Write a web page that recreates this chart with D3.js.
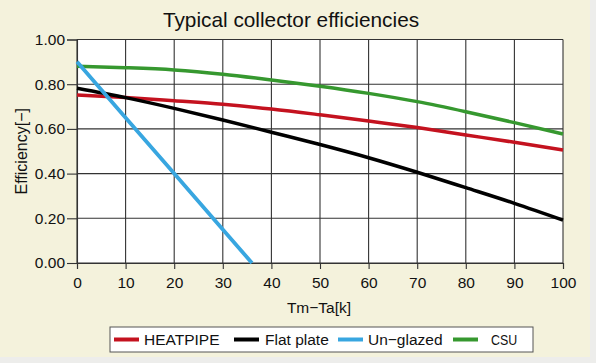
<!DOCTYPE html>
<html><head><meta charset="utf-8">
<script src="https://cdn.jsdelivr.net/npm/d3@7"></script>
<style>body{margin:0;background:#ededeb;}svg{display:block;}</style>
</head><body>
<svg id="c" width="596" height="363"></svg>
<script>
const title = "Typical collector efficiencies";
const xTicks = [0,10,20,30,40,50,60,70,80,90,100];
const yTicks = [0,0.2,0.4,0.6,0.8,1.0];
const xs = [0,10,20,30,40,50,60,70,80,90,100];
const heatpipe = [0.752,0.741,0.726,0.710,0.689,0.663,0.635,0.606,0.573,0.540,0.506];
const flatplate = [0.782,0.740,0.692,0.640,0.585,0.530,0.471,0.406,0.337,0.267,0.192];
const unglazedX = [0,10,20,30,36];
const unglazed = [0.90,0.65,0.40,0.15,0.0];
const csu = [0.880,0.874,0.864,0.845,0.819,0.791,0.759,0.722,0.677,0.628,0.577];
const seriesNames = ["HEATPIPE","Flat plate","Un\u2212glazed","CSU"];
const colors = ["#c4121f","#000000","#38a6e0","#36982f"];

const svg = d3.select("#c");
svg.append("rect").attr("x",0).attr("y",0).attr("width",590).attr("height",357).attr("fill","#f4f2dc");

const x = d3.scaleLinear().domain([0,100]).range([77,563]);
const y = d3.scaleLinear().domain([0,1]).range([263,39.5]);

svg.append("rect").attr("x",x(0)).attr("y",y(1)).attr("width",x(100)-x(0)).attr("height",y(0)-y(1)).attr("fill","#fff");

// grid
const g = svg.append("g");
g.selectAll(".vg").data(xTicks).join("line")
  .attr("x1",d=>x(d)).attr("x2",d=>x(d)).attr("y1",y(1)).attr("y2",y(0))
  .attr("stroke","#333").attr("stroke-width",1.1);
g.selectAll(".hg").data(yTicks).join("line")
  .attr("x1",x(0)).attr("x2",x(100)).attr("y1",d=>y(d)).attr("y2",d=>y(d))
  .attr("stroke","#333").attr("stroke-width",1.1);

// axes
const xa = svg.append("g").attr("transform",`translate(0,${y(0)})`)
  .call(d3.axisBottom(x).tickValues(xTicks).tickFormat(d3.format("d")).tickSize(6).tickPadding(8));
const ya = svg.append("g").attr("transform",`translate(${x(0)},0)`)
  .call(d3.axisLeft(y).tickValues(yTicks).tickFormat(d3.format(".2f")).tickSize(10).tickPadding(2));
[xa,ya].forEach(a=>{
  a.select(".domain").attr("stroke","#333").attr("stroke-width",1.1);
  a.selectAll(".tick line").attr("stroke","#333").attr("stroke-width",1.1);
  a.selectAll("text").attr("fill","#111").style("font-family","'Liberation Sans', Arial, sans-serif").style("font-size","15.5px");
});

// lines
const line = d3.line().x(d=>x(d[0])).y(d=>y(d[1])).curve(d3.curveMonotoneX);
const data = [
  xs.map((v,i)=>[v,heatpipe[i]]),
  xs.map((v,i)=>[v,flatplate[i]]),
  unglazedX.map((v,i)=>[v,unglazed[i]]),
  xs.map((v,i)=>[v,csu[i]])
];
const order = [0,1,3,2];
order.forEach(i=>{
  svg.append("path").attr("d",line(data[i])).attr("fill","none")
    .attr("stroke",colors[i]).attr("stroke-width",i===2?3.8:3.5);
});

// title & labels
svg.append("text").attr("x",291).attr("y",27).attr("text-anchor","middle")
  .style("font-family","'Liberation Sans', Arial, sans-serif").style("font-size","20.8px").attr("fill","#111").text(title);
svg.append("text").attr("x",319).attr("y",313).attr("text-anchor","middle")
  .style("font-family","'Liberation Sans', Arial, sans-serif").style("font-size","15.5px").attr("fill","#111").text("Tm\u2212Ta[k]");
svg.append("text").attr("transform",`translate(27,${(y(0)+y(1))/2}) rotate(-90)`).attr("text-anchor","middle")
  .style("font-family","'Liberation Sans', Arial, sans-serif").style("font-size","16px").attr("fill","#111").text("Efficiency[\u2212]");

// legend
const lg = svg.append("g");
lg.append("rect").attr("x",110).attr("y",327).attr("width",423).attr("height",25)
  .attr("fill","#fff").attr("stroke","#555").attr("stroke-width",1);
const sw = [114,234,338,453];
const tx = [144,265,368,491];
seriesNames.forEach((n,i)=>{
  lg.append("line").attr("x1",sw[i]).attr("x2",sw[i]+25).attr("y1",339.5).attr("y2",339.5)
    .attr("stroke",colors[i]).attr("stroke-width",4);
  const t = lg.append("text")
    .style("font-family","'Liberation Sans', Arial, sans-serif")
    .style("font-size","15.5px").attr("fill","#111").text(n);
  if (i===3) t.attr("transform",`translate(${tx[i]},345) scale(0.8,1)`);
  else t.attr("x",tx[i]).attr("y",345);
});
</script>
</body></html>
